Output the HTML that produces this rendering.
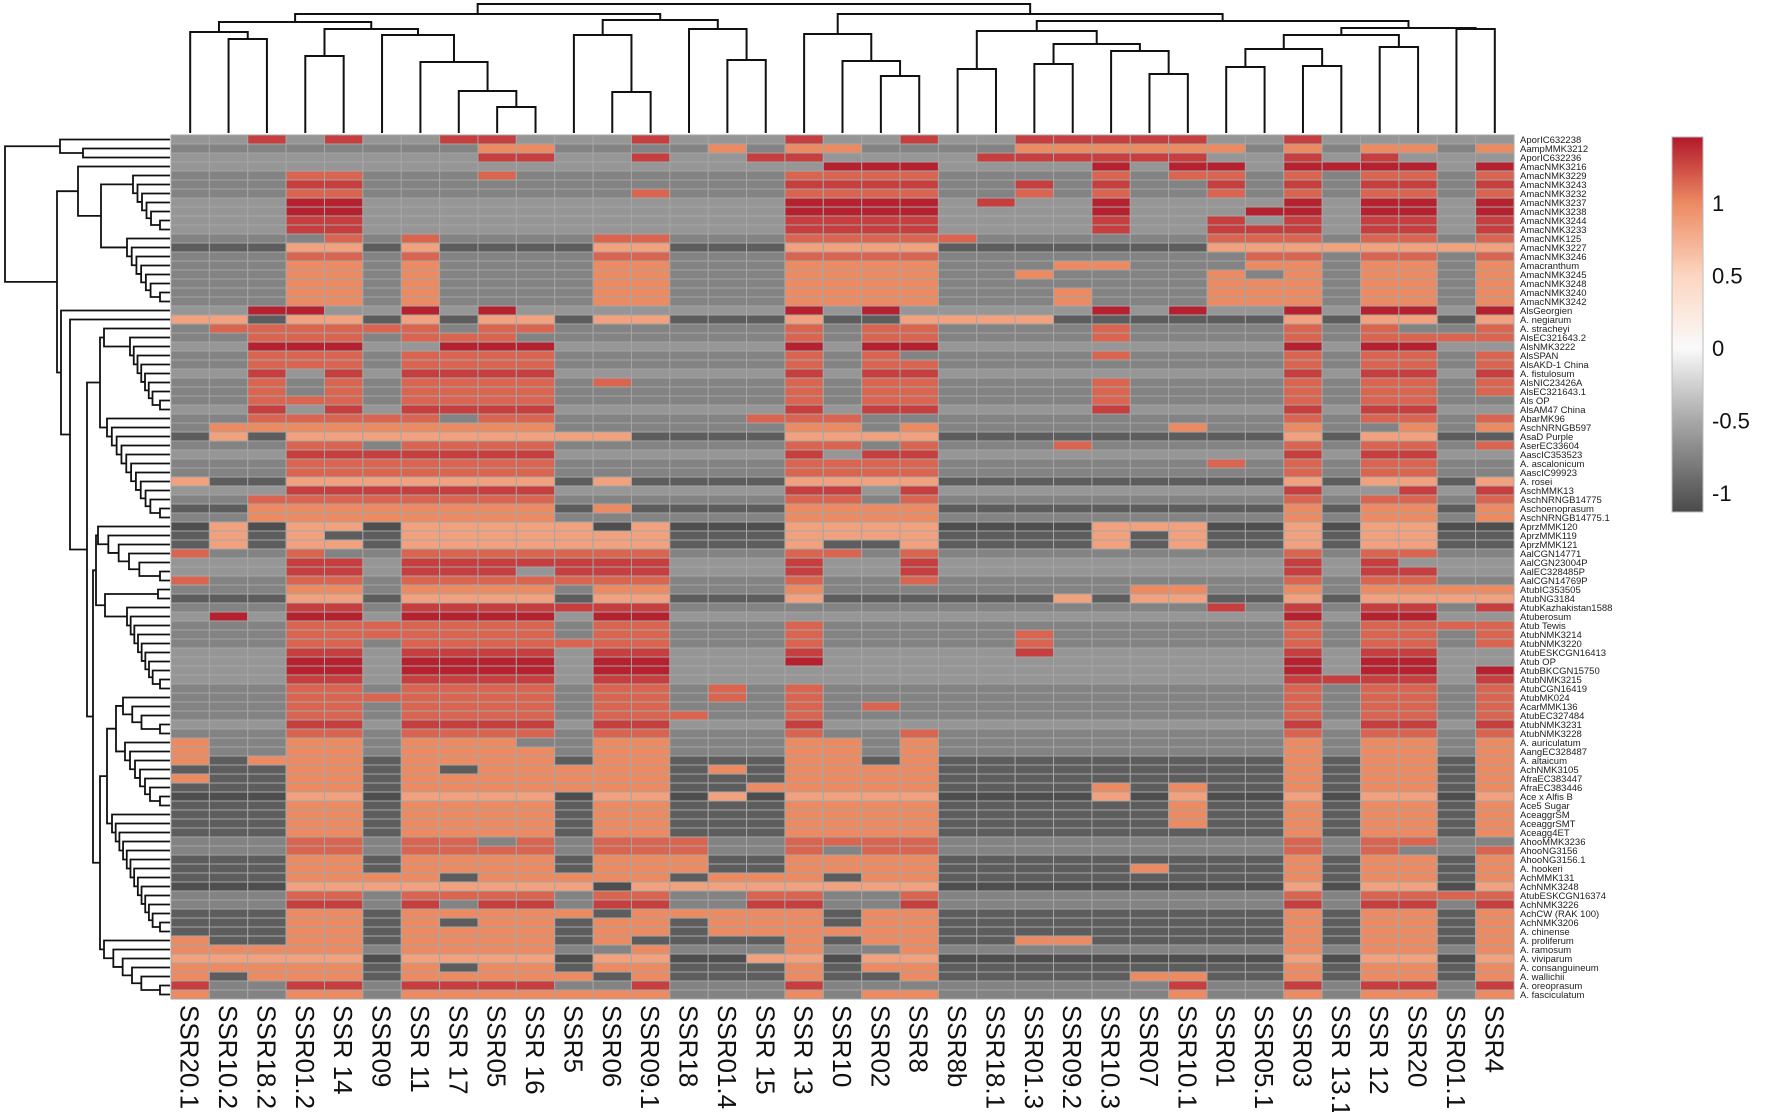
<!DOCTYPE html>
<html><head><meta charset="utf-8"><title>SSR heatmap</title>
<style>
html,body{margin:0;padding:0;background:#fff;}
svg{display:block;font-family:"Liberation Sans",sans-serif;}
</style></head>
<body>
<svg id="chart" width="1772" height="1112" viewBox="0 0 1772 1112" xmlns="http://www.w3.org/2000/svg">
<defs>
<linearGradient id="cbgrad" x1="0" y1="0" x2="0" y2="1"></linearGradient>
</defs>
<g id="coldendro"></g>
<g id="rowdendro"></g>
<g id="cells"></g>
<g id="rowlabels"></g>
<g id="collabels"></g>
<g id="colorbar"></g>
</svg>
<script>
const colNames = ["SSR20.1","SSR10.2","SSR18.2","SSR01.2","SSR 14","SSR09","SSR 11","SSR 17","SSR05","SSR 16","SSR5","SSR06","SSR09.1","SSR18","SSR01.4","SSR 15","SSR 13","SSR10","SSR02","SSR8","SSR8b","SSR18.1","SSR01.3","SSR09.2","SSR10.3","SSR07","SSR10.1","SSR01","SSR05.1","SSR03","SSR 13.1","SSR 12","SSR20","SSR01.1","SSR4"];
const rowNames = ["AporIC632238","AampMMK3212","AporIC632236","AmacNMK3216","AmacNMK3229","AmacNMK3243","AmacNMK3232","AmacNMK3237","AmacNMK3238","AmacNMK3244","AmacNMK3233","AmacNMK125","AmacNMK3227","AmacNMK3246","Amacranthum","AmacNMK3245","AmacNMK3248","AmacNMK3240","AmacNMK3242","AlsGeorgien","A. negiarum","A. stracheyi","AlsEC321643.2","AlsNMK3222","AlsSPAN","AlsAKD-1 China","A. fistulosum","AlsNIC23426A","AlsEC321643.1","Als OP","AlsAM47 China","AbarMK96","AschNRNGB597","AsaD Purple","AserEC33604","AascIC353523","A. ascalonicum","AascIC99923","A. rosei","AschMMK13","AschNRNGB14775","Aschoenoprasum","AschNRNGB14775.1","AprzMMK120","AprzMMK119","AprzMMK121","AalCGN14771","AalCGN23004P","AalEC328485P","AalCGN14769P","AtubIC353505","AtubNG3184","AtubKazhakistan1588","Atuberosum","Atub Tewis","AtubNMK3214","AtubNMK3220","AtubESKCGN16413","Atub OP","AtubBKCGN15750","AtubNMK3215","AtubCGN16419","AtubMK024","AcarMMK136","AtubEC327484","AtubNMK3231","AtubNMK3228","A. auriculatum","AangEC328487","A. altaicum","AchNMK3105","AfraEC383447","AfraEC383446","Ace x Alfis B","Ace5 Sugar","AceaggrSM","AceaggrSMT","Aceagg4ET","AhooMMK3236","AhooNG3156","AhooNG3156.1","A. hookeri","AchMMK131","AchNMK3248","AtubESKCGN16374","AchNMK3226","AchCW (RAK 100)","AchNMK3206","A. chinense","A. proliferum","A. ramosum","A. viviparum","A. consanguineum","A. wallichii","A. oreoprasum","A. fasciculatum"];
const values = [
[-.62,-.62,1.3,-.62,1.3,-.62,-.62,1.3,1.3,-.62,-.62,-.62,1.3,-.62,-.62,-.62,1.3,-.62,-.62,1.3,-.62,-.62,1.3,1.3,1.3,1.3,1.3,-.62,-.62,1.3,-.62,-.62,-.62,-.62,-.62],
[-.75,-.75,-.75,-.75,-.75,-.75,-.75,-.75,1,1,-.75,-.75,-.75,-.75,1,-.75,1,1,-.75,-.75,-.75,-.75,1,1,1,1,1,1,-.75,1,-.75,1,1,-.75,1],
[-.62,-.62,-.62,-.62,-.62,-.62,-.62,-.62,1.3,1.3,-.62,-.62,1.3,-.62,-.62,1.3,1.3,-.62,-.62,-.62,-.62,1.3,1.3,1.3,1.3,1.3,1.3,-.62,-.62,1.3,-.62,1.3,-.62,-.62,-.62],
[-.62,-.62,-.62,-.62,-.62,-.62,-.62,-.62,-.62,-.62,-.62,-.62,-.62,-.62,-.62,-.62,-.62,1.42,1.42,1.42,-.62,-.62,-.62,-.62,1.42,-.62,1.42,1.42,-.62,1.42,1.42,1.42,1.42,-.62,1.42],
[-.75,-.75,-.75,1.15,1.15,-.75,-.75,-.75,1.15,-.75,-.75,-.75,-.75,-.75,-.75,-.75,1.15,1.15,1.15,1.15,-.75,-.75,-.75,-.75,1.15,-.75,1.15,1.15,-.75,1.15,-.75,1.15,1.15,-.75,1.15],
[-.75,-.75,-.75,1.3,1.3,-.75,-.75,-.75,-.75,-.75,-.75,-.75,-.75,-.75,-.75,-.75,1.3,1.3,1.3,1.3,-.75,-.75,1.3,-.75,1.3,-.75,-.75,1.3,-.75,1.3,-.75,1.3,1.3,-.75,1.3],
[-.75,-.75,-.75,1.15,1.15,-.75,-.75,-.75,-.75,-.75,-.75,-.75,1.15,-.75,-.75,-.75,1.15,1.15,1.15,1.15,-.75,-.75,1.15,-.75,1.15,-.75,-.75,1.15,-.75,1.15,-.75,1.15,1.15,-.75,1.15],
[-.62,-.62,-.62,1.42,1.42,-.62,-.62,-.62,-.62,-.62,-.62,-.62,-.62,-.62,-.62,-.62,1.42,1.42,1.42,1.42,-.62,1.3,-.62,-.62,1.42,-.62,-.62,-.62,-.62,1.42,-.62,1.42,1.42,-.62,1.42],
[-.62,-.62,-.62,1.42,1.42,-.62,-.62,-.62,-.62,-.62,-.62,-.62,-.62,-.62,-.62,-.62,1.42,1.42,1.42,1.42,-.62,-.62,-.62,-.62,1.42,-.62,-.62,-.62,1.42,1.42,-.62,1.42,1.42,-.62,1.42],
[-.62,-.62,-.62,1.3,1.3,-.62,-.62,-.62,-.62,-.62,-.62,-.62,-.62,-.62,-.62,-.62,1.3,1.3,1.3,1.3,-.62,-.62,-.62,-.62,1.3,-.62,-.62,1.3,-.62,1.3,-.62,1.3,1.3,-.62,1.3],
[-.62,-.62,-.62,1.3,1.3,-.62,-.62,-.62,-.62,-.62,-.62,-.62,-.62,-.62,-.62,-.62,1.3,1.3,1.3,1.3,-.62,-.62,-.62,-.62,1.3,-.62,-.62,1.3,1.3,1.3,-.62,1.3,1.3,-.62,1.3],
[-.75,-.75,-.75,-.75,1.15,-.75,1.15,-.75,-.75,-.75,-.75,1.15,1.15,-.75,-.75,-.75,1.15,1.15,1.15,1.15,1.15,-.75,-.75,-.75,-.75,-.75,-.75,1.15,1.15,1.15,-.75,1.15,1.15,-.75,1.15],
[-1,-1,-1,.85,.85,-1,.85,-1,-1,-1,-1,.85,.85,-1,-1,-1,.85,.85,.85,.85,-1,-1,-1,-1,-1,-1,-1,.85,.85,.85,.85,.85,.85,.85,.85],
[-.75,-.75,-.75,1.15,1.15,-.75,1.15,-.75,-.75,-.75,-.75,1.15,1.15,-.75,-.75,-.75,1.15,1.15,1.15,1.15,-.75,-.75,-.75,-.75,-.75,-.75,-.75,-.75,1.15,1.15,-.75,1.15,1.15,-.75,1.15],
[-.75,-.75,-.75,1,1,-.75,1,-.75,-.75,-.75,-.75,1,1,-.75,-.75,-.75,1,1,1,1,-.75,-.75,-.75,1,1,-.75,-.75,-.75,1,1,-.75,1,1,-.75,1],
[-.75,-.75,-.75,1,1,-.75,1,-.75,-.75,-.75,-.75,1,1,-.75,-.75,-.75,1,1,1,1,-.75,-.75,1,-.75,-.75,-.75,-.75,1,-.75,1,-.75,1,1,-.75,1],
[-.75,-.75,-.75,1,1,-.75,1,-.75,-.75,-.75,-.75,1,1,-.75,-.75,-.75,1,1,1,1,-.75,-.75,-.75,-.75,-.75,-.75,-.75,1,1,1,-.75,1,1,-.75,1],
[-.75,-.75,-.75,1,1,-.75,1,-.75,-.75,-.75,-.75,1,1,-.75,-.75,-.75,1,1,1,1,-.75,-.75,-.75,1,-.75,-.75,-.75,1,1,1,-.75,1,1,-.75,1],
[-.75,-.75,-.75,1,1,-.75,1,-.75,-.75,-.75,-.75,1,1,-.75,-.75,-.75,1,1,1,1,-.75,-.75,-.75,1,-.75,-.75,-.75,1,1,1,-.75,1,1,-.75,1],
[-.62,-.62,1.42,1.42,-.62,-.62,1.42,-.62,1.42,-.62,-.62,-.62,-.62,-.62,-.62,-.62,1.42,-.62,1.42,-.62,-.62,-.62,-.62,-.62,1.42,-.62,1.42,-.62,-.62,1.42,-.62,1.42,1.42,-.62,1.42],
[.85,.85,-1,.85,.85,-1,.85,-1,.85,.85,-1,.85,.85,-1,-1,-1,.85,-1,-1,.85,.85,.85,.85,-1,-1,-1,-1,-1,-1,.85,-1,.85,.85,-1,.85],
[-.75,1.15,1.15,1.15,1.15,1.15,1.15,-.75,1.15,1.15,-.75,-.75,-.75,-.75,-.75,-.75,1.15,-.75,1.15,1.15,-.75,-.75,-.75,-.75,1.15,-.75,-.75,-.75,-.75,1.15,-.75,1.15,-.75,-.75,1.15],
[-.75,-.75,1.15,1.15,1.15,-.75,1.15,1.15,1.15,-.75,-.75,-.75,-.75,-.75,-.75,-.75,1.15,-.75,1.15,1.15,-.75,-.75,-.75,-.75,1.15,-.75,-.75,-.75,-.75,1.15,-.75,1.15,1.15,1.15,1.15],
[-.62,-.62,1.42,1.42,1.42,-.62,-.62,1.42,1.42,1.42,-.62,-.62,-.62,-.62,-.62,-.62,1.42,-.62,1.42,1.42,-.62,-.62,-.62,-.62,-.62,-.62,-.62,-.62,-.62,1.42,-.62,1.42,1.42,-.62,-.62],
[-.75,-.75,1.15,1.15,1.15,-.75,1.15,1.15,1.15,1.15,-.75,-.75,-.75,-.75,-.75,-.75,1.15,-.75,1.15,-.75,-.75,-.75,-.75,-.75,1.15,-.75,-.75,-.75,-.75,1.15,-.75,1.15,1.15,-.75,1.15],
[-.75,-.75,1.15,1.15,1.15,-.75,1.15,1.15,1.15,1.15,-.75,-.75,-.75,-.75,-.75,-.75,1.15,-.75,1.15,1.15,-.75,-.75,-.75,-.75,-.75,-.75,-.75,-.75,-.75,1.15,-.75,1.15,1.15,-.75,1.15],
[-.62,-.62,1.3,-.62,1.3,-.62,1.3,1.3,1.3,1.3,-.62,-.62,-.62,-.62,-.62,-.62,1.3,-.62,1.3,1.3,-.62,-.62,-.62,-.62,-.62,-.62,-.62,-.62,-.62,1.3,-.62,1.3,1.3,-.62,1.3],
[-.75,-.75,1.15,-.75,1.15,-.75,1.15,1.15,1.15,1.15,-.75,1.15,-.75,-.75,-.75,-.75,1.15,-.75,1.15,1.15,-.75,-.75,-.75,-.75,1.15,-.75,-.75,-.75,-.75,1.15,-.75,1.15,1.15,-.75,1.15],
[-.75,-.75,1.15,-.75,1.15,-.75,1.15,1.15,1.15,1.15,-.75,-.75,-.75,-.75,-.75,-.75,1.15,-.75,1.15,1.15,-.75,-.75,-.75,-.75,1.15,-.75,-.75,-.75,-.75,1.15,-.75,1.15,1.15,-.75,1.15],
[-.75,-.75,1.15,1.15,1.15,-.75,1.15,1.15,1.15,1.15,-.75,-.75,-.75,-.75,-.75,-.75,1.15,-.75,1.15,1.15,-.75,-.75,-.75,-.75,1.15,-.75,-.75,-.75,-.75,1.15,-.75,1.15,1.15,-.75,-.75],
[-.62,-.62,1.3,-.62,1.3,-.62,1.3,1.3,1.3,1.3,-.62,-.62,-.62,-.62,-.62,-.62,1.3,-.62,1.3,1.3,-.62,-.62,-.62,-.62,1.3,-.62,-.62,-.62,-.62,1.3,-.62,1.3,1.3,-.62,-.62],
[-.75,-.75,1.15,1.15,1.15,1.15,1.15,-.75,1.15,1.15,-.75,-.75,-.75,-.75,-.75,1.15,1.15,1.15,-.75,-.75,-.75,-.75,-.75,-.75,-.75,-.75,-.75,-.75,-.75,1.15,-.75,1.15,1.15,-.75,1.15],
[-.75,1,1,1,1,1,1,1,1,1,-.75,-.75,-.75,-.75,-.75,-.75,1,1,-.75,1,-.75,-.75,-.75,-.75,-.75,-.75,1,-.75,-.75,1,-.75,-.75,1,-.75,1],
[-1,.85,-1,.85,.85,.85,.85,.85,.85,.85,.85,.85,-1,-1,-1,-1,.85,.85,.85,.85,-1,-1,-1,-1,-1,-1,-1,-1,-1,.85,-1,.85,.85,-1,-1],
[-.75,-.75,-.75,1.15,1.15,-.75,1.15,1.15,1.15,1.15,-.75,-.75,-.75,-.75,-.75,-.75,1.15,1.15,-.75,1.15,-.75,-.75,-.75,1.15,-.75,-.75,-.75,-.75,-.75,1.15,-.75,1.15,1.15,-.75,1.15],
[-.62,-.62,-.62,1.3,1.3,1.3,1.3,1.3,1.3,1.3,-.62,-.62,-.62,-.62,-.62,-.62,1.3,-.62,1.3,1.3,-.62,-.62,-.62,-.62,-.62,-.62,-.62,-.62,-.62,1.3,-.62,1.3,1.3,-.62,-.62],
[-.75,-.75,-.75,1.15,1.15,1.15,1.15,1.15,1.15,1.15,-.75,-.75,-.75,-.75,-.75,-.75,1.15,1.15,1.15,1.15,-.75,-.75,-.75,-.75,-.75,-.75,-.75,1.15,-.75,1.15,-.75,1.15,1.15,-.75,-.75],
[-.75,-.75,-.75,1.15,1.15,1.15,1.15,1.15,1.15,1.15,-.75,-.75,-.75,-.75,-.75,-.75,1.15,1.15,1.15,1.15,-.75,-.75,-.75,-.75,-.75,-.75,-.75,-.75,-.75,1.15,-.75,1.15,1.15,-.75,-.75],
[.85,-1,-1,.85,.85,.85,.85,.85,.85,.85,-1,.85,-1,-1,-1,-1,.85,.85,.85,.85,-1,-1,-1,-1,-1,-1,-1,-1,-1,.85,-1,.85,.85,-1,.85],
[-.62,-.62,-.62,1.3,1.3,1.3,1.3,1.3,1.3,1.3,-.62,-.62,-.62,-.62,-.62,-.62,1.3,1.3,-.62,1.3,-.62,-.62,-.62,-.62,-.62,-.62,-.62,-.62,-.62,1.3,-.62,-.62,1.3,-.62,1.3],
[-.75,-.75,1.15,1.15,1.15,1.15,1.15,1.15,1.15,1.15,-.75,-.75,-.75,-.75,-.75,-.75,1.15,1.15,-.75,1.15,-.75,-.75,-.75,-.75,-.75,-.75,-.75,-.75,-.75,1.15,-.75,1.15,1.15,-.75,1.15],
[-1,-1,1,1,1,1,1,1,1,1,-1,1,-1,-1,-1,-1,1,1,1,1,-1,-1,-1,-1,-1,-1,-1,-1,-1,1,-1,1,1,-1,1],
[-.75,-.75,1,1,1,1,1,1,1,1,-.75,-.75,-.75,-.75,-.75,-.75,1,1,1,1,-.75,-.75,-.75,-.75,-.75,-.75,-.75,-.75,-.75,1,-.75,1,1,-.75,1],
[-1.1,.85,-1.1,.85,.85,-1.1,.85,.85,.85,.85,.85,-1.1,.85,-1.1,-1.1,-1.1,.85,.85,.85,.85,-1.1,-1.1,-1.1,-1.1,.85,.85,.85,-1.1,-1.1,.85,-1.1,.85,.85,-1.1,-1.1],
[-1,.85,-1,.85,-1,-1,.85,.85,.85,.85,.85,.85,.85,-1,-1,-1,.85,.85,.85,.85,-1,-1,-1,-1,.85,-1,.85,-1,-1,.85,-1,.85,.85,-1,-1],
[-1,.85,-1,.85,.85,-1,.85,.85,.85,.85,.85,.85,.85,-1,-1,-1,.85,-1,-1,.85,-1,-1,-1,-1,.85,-1,.85,-1,-1,.85,-1,.85,.85,-1,-1],
[1.15,-.75,-.75,1.15,-.75,-.75,1.15,1.15,1.15,1.15,1.15,1.15,1.15,-.75,-.75,-.75,1.15,1.15,-.75,1.15,-.75,-.75,-.75,-.75,-.75,-.75,-.75,-.75,-.75,1.15,-.75,1.15,1.15,-.75,-.75],
[-.62,-.62,-.62,1.3,1.3,-.62,1.3,1.3,1.3,1.3,1.3,1.3,1.3,-.62,-.62,-.62,1.3,-.62,-.62,1.3,-.62,-.62,-.62,-.62,-.62,-.62,-.62,-.62,-.62,1.3,-.62,1.3,-.62,-.62,-.62],
[-.62,-.62,-.62,1.3,1.3,-.62,1.3,1.3,1.3,-.62,1.3,1.3,1.3,-.62,-.62,-.62,1.3,-.62,-.62,1.3,-.62,-.62,-.62,-.62,-.62,-.62,-.62,-.62,-.62,1.3,-.62,1.3,1.3,-.62,-.62],
[1.15,-.75,-.75,1.15,1.15,-.75,1.15,1.15,1.15,1.15,1.15,1.15,1.15,-.75,-.75,-.75,1.15,-.75,-.75,1.15,-.75,-.75,-.75,-.75,-.75,-.75,-.75,-.75,-.75,1.15,-.75,1.15,1.15,-.75,-.75],
[-.75,-.75,-.75,1,1,-.75,1,1,1,1,-.75,1,1,-.75,-.75,-.75,1,-.75,-.75,-.75,-.75,-.75,-.75,-.75,-.75,1,1,-.75,-.75,1,-.75,1,1,1,1],
[-1,-1,-1,.85,.85,-1,.85,.85,.85,.85,-1,.85,.85,-1,-1,-1,.85,-1,-1,-1,-1,-1,-1,.85,-1,.85,.85,-1,-1,.85,-1,.85,.85,.85,.85],
[-.75,-.75,-.75,1.3,1.3,-.75,1.3,1.3,1.3,1.3,1.3,1.3,1.3,-.75,-.75,-.75,-.75,-.75,-.75,-.75,-.75,-.75,-.75,-.75,-.75,-.75,-.75,1.3,-.75,1.3,-.75,1.3,1.3,-.75,1.3],
[-.62,1.42,-.62,1.42,1.42,-.62,1.42,1.42,1.42,1.42,-.62,1.42,1.42,-.62,-.62,-.62,-.62,-.62,-.62,-.62,-.62,-.62,-.62,-.62,-.62,-.62,-.62,-.62,-.62,1.42,-.62,1.42,1.42,-.62,-.62],
[-.75,-.75,-.75,1.15,1.15,1.15,1.15,1.15,1.15,1.15,-.75,1.15,1.15,-.75,-.75,-.75,1.15,-.75,-.75,-.75,-.75,-.75,-.75,-.75,-.75,-.75,-.75,-.75,-.75,1.15,-.75,1.15,1.15,1.15,1.15],
[-.75,-.75,-.75,1.15,1.15,1.15,1.15,1.15,1.15,1.15,-.75,1.15,1.15,-.75,-.75,-.75,1.15,-.75,-.75,-.75,-.75,-.75,1.15,-.75,-.75,-.75,-.75,-.75,-.75,1.15,-.75,1.15,1.15,-.75,1.15],
[-.75,-.75,-.75,1.15,1.15,-.75,1.15,1.15,1.15,1.15,1.15,1.15,1.15,-.75,-.75,-.75,1.15,-.75,-.75,-.75,-.75,-.75,1.15,-.75,-.75,-.75,-.75,-.75,-.75,1.15,-.75,1.15,1.15,-.75,1.15],
[-.62,-.62,-.62,1.3,1.3,-.62,1.3,1.3,1.3,1.3,-.62,1.3,1.3,-.62,-.62,-.62,1.3,-.62,-.62,-.62,-.62,-.62,1.3,-.62,-.62,-.62,-.62,-.62,-.62,1.3,-.62,1.3,1.3,-.62,-.62],
[-.62,-.62,-.62,1.42,1.42,-.62,1.42,1.42,1.42,1.42,-.62,1.42,1.42,-.62,-.62,-.62,1.42,-.62,-.62,-.62,-.62,-.62,-.62,-.62,-.62,-.62,-.62,-.62,-.62,1.42,-.62,1.42,1.42,-.62,-.62],
[-.62,-.62,-.62,1.42,1.42,-.62,1.42,1.42,1.42,1.42,-.62,1.42,1.42,-.62,-.62,-.62,-.62,-.62,-.62,-.62,-.62,-.62,-.62,-.62,-.62,-.62,-.62,-.62,-.62,1.42,-.62,1.42,1.42,-.62,1.42],
[-.62,-.62,-.62,1.3,1.3,-.62,1.3,1.3,1.3,1.3,-.62,1.3,1.3,-.62,-.62,-.62,-.62,-.62,-.62,-.62,-.62,-.62,-.62,-.62,-.62,-.62,-.62,-.62,-.62,1.3,1.3,1.3,1.3,-.62,1.3],
[-.75,-.75,-.75,1.15,1.15,-.75,1.15,1.15,1.15,1.15,-.75,1.15,1.15,-.75,1.15,-.75,1.15,-.75,-.75,-.75,-.75,-.75,-.75,-.75,-.75,-.75,-.75,-.75,-.75,1.15,-.75,1.15,1.15,-.75,1.15],
[-.75,-.75,-.75,1.15,1.15,1.15,1.15,1.15,1.15,1.15,-.75,1.15,1.15,-.75,1.15,-.75,1.15,-.75,-.75,-.75,-.75,-.75,-.75,-.75,-.75,-.75,-.75,-.75,-.75,1.15,-.75,1.15,1.15,-.75,1.15],
[-.75,-.75,-.75,1.15,1.15,-.75,1.15,1.15,1.15,1.15,-.75,1.15,1.15,-.75,-.75,-.75,1.15,-.75,1.15,-.75,-.75,-.75,-.75,-.75,-.75,-.75,-.75,-.75,-.75,1.15,-.75,1.15,1.15,-.75,1.15],
[-.75,-.75,-.75,1.15,1.15,-.75,1.15,1.15,1.15,1.15,-.75,1.15,1.15,1.15,-.75,-.75,1.15,-.75,-.75,-.75,-.75,-.75,-.75,-.75,-.75,-.75,-.75,-.75,-.75,1.15,-.75,1.15,1.15,-.75,1.15],
[-.62,-.62,-.62,1.3,1.3,-.62,1.3,1.3,1.3,1.3,-.62,1.3,1.3,-.62,-.62,-.62,1.3,-.62,-.62,-.62,-.62,-.62,-.62,-.62,-.62,-.62,-.62,-.62,-.62,1.3,-.62,1.3,1.3,-.62,1.3],
[-.75,-.75,-.75,1.15,1.15,-.75,1.15,1.15,1.15,1.15,-.75,1.15,1.15,-.75,-.75,-.75,1.15,-.75,-.75,1.15,-.75,-.75,-.75,-.75,-.75,-.75,-.75,-.75,-.75,1.15,-.75,1.15,1.15,-.75,1.15],
[1,-.75,-.75,1,1,-.75,1,1,1,-.75,-.75,1,1,-.75,-.75,-.75,1,1,-.75,1,-.75,-.75,-.75,-.75,-.75,-.75,-.75,-.75,-.75,1,-.75,1,1,-.75,1],
[1,-.75,-.75,1,1,-.75,1,1,1,1,-.75,1,1,-.75,-.75,-.75,1,1,-.75,1,-.75,-.75,-.75,-.75,-.75,-.75,-.75,-.75,-.75,1,-.75,1,1,-.75,1],
[1,-1,1,1,1,-1,1,1,1,1,-1,1,1,-1,-1,-1,1,1,-1,1,-1,-1,-1,-1,-1,-1,-1,-1,-1,1,-1,1,1,-1,1],
[-1,-1,-1,1,1,-1,1,-1,1,1,1,1,1,-1,1,-1,1,1,1,1,-1,-1,-1,-1,-1,-1,-1,-1,-1,1,-1,1,1,-1,1],
[1,-1,-1,1,1,-1,1,1,1,1,1,1,1,-1,-1,-1,1,1,1,1,-1,-1,-1,-1,-1,-1,-1,-1,-1,1,-1,1,1,-1,1],
[-1,-1,-1,1,1,-1,1,1,1,1,1,1,1,-1,-1,1,1,1,1,1,-1,-1,-1,-1,1,-1,1,-1,-1,1,-1,1,1,-1,1],
[-1.1,-1.1,-1.1,.85,.85,-1.1,.85,.85,.85,.85,-1.1,.85,.85,-1.1,.85,-1.1,.85,.85,.85,.85,-1.1,-1.1,-1.1,-1.1,.85,-1.1,.85,-1.1,-1.1,.85,-1.1,.85,.85,-1.1,.85],
[-1,-1,-1,1,1,-1,1,1,1,1,-1,1,1,-1,-1,-1,1,1,1,1,-1,-1,-1,-1,-1,-1,1,-1,-1,1,-1,1,1,-1,1],
[-1,-1,-1,1,1,-1,1,1,1,1,-1,1,1,-1,-1,-1,1,1,1,1,-1,-1,-1,-1,-1,-1,1,-1,-1,1,-1,1,1,-1,1],
[-1,-1,-1,1,1,-1,1,1,1,1,-1,1,1,-1,-1,-1,1,1,1,1,-1,-1,-1,-1,-1,-1,1,-1,-1,1,-1,1,1,-1,1],
[-1,-1,-1,1,1,-1,1,1,1,1,-1,1,1,-1,-1,-1,1,1,1,1,-1,-1,-1,-1,-1,-1,-1,-1,-1,1,-1,1,1,-1,1],
[-.75,-.75,-.75,1.15,1.15,-.75,1.15,1.15,-.75,1.15,-.75,1.15,1.15,1.15,-.75,-.75,1.15,1.15,1.15,1.15,-.75,-.75,-.75,-.75,-.75,-.75,-.75,-.75,-.75,1.15,-.75,1.15,1.15,-.75,-.75],
[-.75,-.75,-.75,1.15,1.15,-.75,1.15,1.15,1.15,1.15,-.75,1.15,1.15,1.15,-.75,-.75,1.15,-.75,1.15,1.15,-.75,-.75,-.75,-.75,-.75,-.75,-.75,-.75,-.75,1.15,-.75,1.15,-.75,-.75,1.15],
[-1,-1,-1,1,1,-1,1,1,1,1,-1,1,1,1,-1,-1,1,1,1,1,-1,-1,-1,-1,-1,-1,-1,-1,-1,1,-1,1,1,-1,1],
[-1,-1,-1,1,1,-1,1,1,1,1,-1,1,1,1,-1,-1,1,1,1,1,-1,-1,-1,-1,-1,1,-1,-1,-1,1,-1,1,1,-1,1],
[-1,-1,-1,1,1,1,1,-1,1,1,1,1,1,-1,1,1,1,-1,1,1,-1,-1,-1,-1,-1,-1,-1,-1,-1,1,-1,1,1,-1,1],
[-1.1,-1.1,-1.1,.85,.85,.85,.85,.85,.85,.85,.85,-1.1,.85,.85,.85,.85,.85,.85,.85,.85,-1.1,-1.1,-1.1,-1.1,-1.1,-1.1,-1.1,-1.1,-1.1,.85,-1.1,.85,.85,-1.1,.85],
[-.75,-.75,-.75,1.15,1.15,-.75,1.15,1.15,1.15,1.15,-.75,1.15,1.15,-.75,-.75,1.15,1.15,-.75,-.75,1.15,-.75,-.75,-.75,-.75,-.75,-.75,-.75,-.75,-.75,1.15,-.75,1.15,1.15,1.15,1.15],
[-.75,-.75,-.75,1.3,1.3,-.75,1.3,-.75,1.3,1.3,-.75,1.3,1.3,-.75,-.75,1.3,1.3,-.75,-.75,1.3,-.75,-.75,-.75,-.75,-.75,-.75,-.75,-.75,-.75,1.3,-.75,1.3,1.3,-.75,1.3],
[-1,-1,-1,1,1,-1,1,1,1,1,1,-1,1,1,1,1,1,-1,1,1,-1,-1,-1,-1,-1,-1,-1,-1,-1,1,-1,1,1,-1,1],
[-1,-1,-1,1,1,-1,1,-1,1,1,-1,1,1,-1,1,1,1,-1,1,1,-1,-1,-1,-1,-1,-1,-1,-1,-1,1,-1,1,1,-1,1],
[-1,-1,-1,1,1,-1,1,1,1,1,-1,1,1,-1,1,1,1,1,1,1,-1,-1,-1,-1,-1,-1,-1,-1,-1,1,-1,1,1,-1,1],
[1,-1,-1,1,1,-1,1,1,1,1,-1,1,-1,-1,-1,-1,1,-1,1,1,-1,-1,1,1,-1,-1,-1,-1,-1,1,-1,1,1,-1,1],
[1,1,1,1,1,-.75,1,1,1,1,-.75,-.75,1,-.75,-.75,-.75,1,-.75,-.75,1,-.75,-.75,-.75,-.75,-.75,-.75,-.75,-.75,-.75,1,-.75,1,1,-.75,1],
[.85,.85,.85,.85,.85,-1.1,.85,.85,.85,.85,-1.1,.85,.85,-1.1,-1.1,.85,.85,-1.1,.85,.85,-1.1,-1.1,-1.1,-1.1,-1.1,-1.1,-1.1,-1.1,-1.1,.85,-1.1,.85,.85,-1.1,.85],
[1,1,1,1,1,-1,1,-1,1,1,-1,1,1,-1,-1,-1,1,-1,1,1,-1,-1,-1,-1,-1,-1,-1,-1,-1,1,-1,1,1,-1,1],
[1,-1,1,1,1,-1,1,1,1,1,1,-1,1,-1,-1,-1,1,-1,-1,1,-1,-1,-1,-1,-1,1,1,-1,-1,1,-1,1,1,-1,1],
[1.3,-.75,-.75,1.3,1.3,-.75,1.3,1.3,1.3,1.3,-.75,-.75,1.3,-.75,-.75,-.75,1.3,-.75,-.75,-.75,-.75,-.75,-.75,-.75,-.75,-.75,1.3,-.75,-.75,1.3,-.75,1.3,1.3,-.75,1.3],
[1,-.75,-.75,1,1,-.75,1,1,1,1,1,1,1,-.75,-.75,-.75,1,-.75,1,1,-.75,-.75,-.75,-.75,-.75,-.75,1,-.75,-.75,1,-.75,1,1,-.75,1]
];
const cbTicks = [1, 0.5, 0, -0.5, -1];
const cbTickLabels = ["1", "0.5", "0", "-0.5", "-1"];
const colorStops = [[-1.13,[74,74,74]],[-0.5,[168,168,168]],[0,[250,250,250]],[0.5,[252,213,192]],[1.0,[236,138,98]],[1.455,[178,24,43]]];
// column tree: [left, right, height]
const colTree = [[[[0,[1,2,94],101],[[3,4,77],[5,[6,[7,[8,9,26],42],71],98],104],111],[[10,[11,12,41],98],[13,[14,15,73],104],113],119],[[16,[17,[18,19,57],72],99],[[[20,21,64],[[22,23,69],[24,[25,26,59],82],89],102],[[[[27,28,66],[29,30,67],84],[31,32,86],98],[33,34,104],105],112],119],129];

const NS = "http://www.w3.org/2000/svg";
const X0 = 171, X1 = 1514, Y0 = 135, RH = 9;
const CW = (X1 - X0) / colNames.length;
function xScale(c){ return X0 + c * CW; }
function yScale(r){ return Y0 + r * RH; }
function color(v){
  if (v <= colorStops[0][0]) return rgb(colorStops[0][1]);
  for (let i = 1; i < colorStops.length; i++){
    if (v <= colorStops[i][0]){
      const a = colorStops[i-1], b = colorStops[i];
      const t = (v - a[0]) / (b[0] - a[0]);
      return rgb(a[1].map((c,k)=>c + (b[1][k]-c)*t));
    }
  }
  return rgb(colorStops[colorStops.length-1][1]);
}
function rgb(a){ return "rgb(" + a.map(Math.round).join(",") + ")"; }
function mk(tag, attrs){ const e = document.createElementNS(NS, tag); for (const k in attrs) e.setAttribute(k, attrs[k]); return e; }

// cells
const cells = document.getElementById("cells");
values.forEach((row, r) => {
  row.forEach((v, c) => {
    const rect = mk("rect", {x: xScale(c), y: yScale(r), width: CW, height: RH, fill: color(v), stroke: "#a6a6a6", "stroke-width": 1});
    
    
    cells.appendChild(rect);
  });
});

// row labels
const rl = document.getElementById("rowlabels");
rowNames.forEach((n, r) => {
  const t = mk("text", {x: 1520, y: yScale(r) + 8, "font-size": 9.5, fill: "#222"});
  t.textContent = n;
  
  
  rl.appendChild(t);
});

// column labels
const cl = document.getElementById("collabels");
colNames.forEach((n, c) => {
  const cx = xScale(c) + CW / 2;
  const t = mk("text", {transform: "translate(" + (cx - 9.5) + ",1005) rotate(90)", "font-size": 26, fill: "#111"});
  t.textContent = n;
  
  
  cl.appendChild(t);
});

// column dendrogram
const cd = document.getElementById("coldendro");
function colLayout(node){
  if (typeof node === "number") return {p: xScale(node) + CW/2, y: 133};
  const a = colLayout(node[0]), b = colLayout(node[1]);
  const y = 133 - node[2];
  const path = mk("path", {d: "M"+a.p+","+a.y+"V"+y+"H"+b.p+"V"+b.y, fill: "none", stroke: "#111", "stroke-width": 2});
  
  
  cd.appendChild(path);
  return {p: (a.p + b.p)/2, y: y};
}
colLayout(colTree);

// row dendrogram
function ladder(a, b, x0, x1){
  if (a === b) return a;
  if (b === a + 1) return [a, b, x1];
  const step = (x1 - x0) / (b - a);
  return [a, ladder(a + 1, b, x0 + step, x1), x0];
}
const rowTree = [
  [0, [1, 2, 83], 60],
  [
    [3, [ladder(4, 10, 133, 160), ladder(11, 18, 127, 160), 101], 78],
    [19, [20, [
      [[21, ladder(22, 30, 130, 160), 104], ladder(31, 42, 107, 160), 100],
      [
        [ladder(43, 49, 98, 160), [[50, 51, 158], ladder(52, 61, 127, 160), 105], 96],
        [[[ladder(62, 66, 123, 160), ladder(67, 74, 125, 160), 116], ladder(75, 88, 112, 160), 107], ladder(89, 95, 104, 160), 100],
        93]
      , 87], 70], 61],
    57],
  5];
const rd = document.getElementById("rowdendro");
function rowLayout(node){
  if (typeof node === "number") return {x: 170, y: yScale(node) + RH/2};
  const a = rowLayout(node[0]), b = rowLayout(node[1]);
  const x = node[2];
  const path = mk("path", {d: "M"+a.x+","+a.y+"H"+x+"V"+b.y+"H"+b.x, fill: "none", stroke: "#111", "stroke-width": 1.8});
  
  
  rd.appendChild(path);
  return {x: x, y: (a.y + b.y)/2};
}
rowLayout(rowTree);

// colorbar
const CBX = 1672, CBY0 = 137, CBY1 = 512, VMAX = 1.455, VMIN = -1.13;
function cbY(v){ return CBY0 + (VMAX - v) / (VMAX - VMIN) * (CBY1 - CBY0); }
const grad = document.getElementById("cbgrad");
colorStops.slice().reverse().forEach(s => {
  const st = mk("stop", {offset: ((VMAX - s[0]) / (VMAX - VMIN) * 100).toFixed(2) + "%", "stop-color": rgb(s[1])});
  grad.appendChild(st);
});
const cb = document.getElementById("colorbar");
const cbr = mk("rect", {x: CBX, y: CBY0, width: 31, height: CBY1 - CBY0, fill: "url(#cbgrad)", stroke: "#bbb", "stroke-width": 1});


cb.appendChild(cbr);
cbTicks.forEach((v, i) => {
  const t = mk("text", {x: 1712, y: cbY(v) + 8, "font-size": 22, fill: "#111"});
  t.textContent = cbTickLabels[i];
  
  
  cb.appendChild(t);
});
</script>
</body></html>
